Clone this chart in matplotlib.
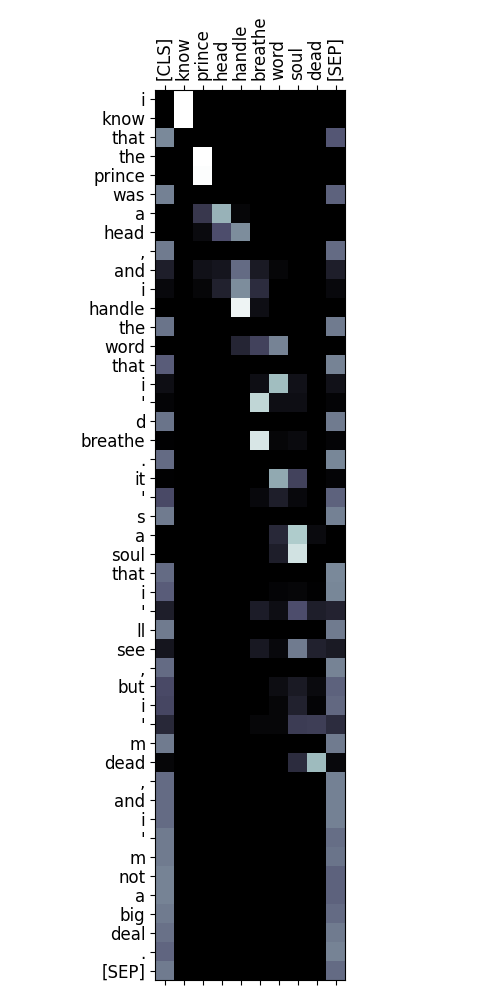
import numpy as np
import matplotlib
matplotlib.use('Agg')
import matplotlib.pyplot as plt

# key tokens (columns) and sentence tokens (rows)
cols = ['[CLS]', 'know', 'prince', 'head', 'handle', 'breathe',
        'word', 'soul', 'dead', '[SEP]']
rows = ['i', 'know', 'that', 'the', 'prince', 'was', 'a', 'head', ',',
        'and', 'i', 'handle', 'the', 'word', 'that', 'i', "'", 'd',
        'breathe', '.', 'it', "'", 's', 'a', 'soul', 'that', 'i', "'",
        'll', 'see', ',', 'but', 'i', "'", 'm', 'dead', ',', 'and', 'i',
        "'", 'm', 'not', 'a', 'big', 'deal', '.', '[SEP]']

# attention weights, one list per row (CLS ... SEP)
attn = [
    [0.00, 1.00, 0.00, 0.00, 0.00, 0.00, 0.00, 0.00, 0.00, 0.00],
    [0.00, 1.00, 0.00, 0.00, 0.00, 0.00, 0.00, 0.00, 0.00, 0.00],
    [0.55, 0.00, 0.00, 0.00, 0.00, 0.00, 0.00, 0.00, 0.00, 0.38],
    [0.00, 0.00, 1.00, 0.00, 0.00, 0.00, 0.00, 0.00, 0.00, 0.00],
    [0.00, 0.00, 0.99, 0.00, 0.00, 0.00, 0.00, 0.00, 0.00, 0.00],
    [0.52, 0.00, 0.00, 0.00, 0.00, 0.00, 0.00, 0.00, 0.00, 0.42],
    [0.00, 0.00, 0.25, 0.68, 0.03, 0.00, 0.00, 0.00, 0.00, 0.00],
    [0.00, 0.00, 0.05, 0.35, 0.56, 0.00, 0.00, 0.00, 0.00, 0.00],
    [0.50, 0.00, 0.00, 0.00, 0.00, 0.00, 0.00, 0.00, 0.00, 0.45],
    [0.14, 0.00, 0.08, 0.10, 0.45, 0.12, 0.03, 0.00, 0.00, 0.14],
    [0.04, 0.00, 0.03, 0.15, 0.56, 0.20, 0.00, 0.00, 0.00, 0.04],
    [0.00, 0.00, 0.00, 0.00, 0.95, 0.07, 0.00, 0.00, 0.00, 0.00],
    [0.48, 0.00, 0.00, 0.00, 0.00, 0.00, 0.00, 0.00, 0.00, 0.50],
    [0.00, 0.00, 0.00, 0.00, 0.17, 0.30, 0.53, 0.00, 0.00, 0.00],
    [0.40, 0.00, 0.00, 0.00, 0.00, 0.00, 0.00, 0.00, 0.00, 0.53],
    [0.07, 0.00, 0.00, 0.00, 0.00, 0.07, 0.72, 0.08, 0.00, 0.08],
    [0.02, 0.00, 0.00, 0.00, 0.00, 0.82, 0.07, 0.07, 0.00, 0.02],
    [0.48, 0.00, 0.00, 0.00, 0.00, 0.00, 0.00, 0.00, 0.00, 0.50],
    [0.01, 0.00, 0.00, 0.00, 0.00, 0.89, 0.03, 0.05, 0.00, 0.02],
    [0.45, 0.00, 0.00, 0.00, 0.00, 0.00, 0.00, 0.00, 0.00, 0.54],
    [0.01, 0.00, 0.00, 0.00, 0.00, 0.00, 0.65, 0.30, 0.00, 0.02],
    [0.33, 0.00, 0.00, 0.00, 0.00, 0.04, 0.14, 0.04, 0.00, 0.42],
    [0.50, 0.00, 0.00, 0.00, 0.00, 0.00, 0.00, 0.00, 0.00, 0.52],
    [0.00, 0.00, 0.00, 0.00, 0.00, 0.00, 0.18, 0.77, 0.05, 0.00],
    [0.00, 0.00, 0.00, 0.00, 0.00, 0.00, 0.14, 0.87, 0.00, 0.00],
    [0.45, 0.00, 0.00, 0.00, 0.00, 0.00, 0.00, 0.00, 0.00, 0.55],
    [0.40, 0.00, 0.00, 0.00, 0.00, 0.00, 0.02, 0.03, 0.01, 0.54],
    [0.14, 0.00, 0.00, 0.00, 0.00, 0.13, 0.07, 0.35, 0.14, 0.16],
    [0.50, 0.00, 0.00, 0.00, 0.00, 0.00, 0.00, 0.00, 0.00, 0.50],
    [0.10, 0.00, 0.00, 0.00, 0.00, 0.11, 0.04, 0.50, 0.15, 0.12],
    [0.45, 0.00, 0.00, 0.00, 0.00, 0.00, 0.00, 0.00, 0.00, 0.53],
    [0.33, 0.00, 0.00, 0.00, 0.00, 0.00, 0.06, 0.12, 0.05, 0.42],
    [0.32, 0.00, 0.00, 0.00, 0.00, 0.00, 0.03, 0.15, 0.02, 0.44],
    [0.18, 0.00, 0.00, 0.00, 0.00, 0.03, 0.03, 0.27, 0.28, 0.20],
    [0.50, 0.00, 0.00, 0.00, 0.00, 0.00, 0.00, 0.00, 0.00, 0.50],
    [0.03, 0.00, 0.00, 0.00, 0.00, 0.00, 0.00, 0.20, 0.71, 0.04],
    [0.45, 0.00, 0.00, 0.00, 0.00, 0.00, 0.00, 0.00, 0.00, 0.52],
    [0.45, 0.00, 0.00, 0.00, 0.00, 0.00, 0.00, 0.00, 0.00, 0.52],
    [0.45, 0.00, 0.00, 0.00, 0.00, 0.00, 0.00, 0.00, 0.00, 0.52],
    [0.50, 0.00, 0.00, 0.00, 0.00, 0.00, 0.00, 0.00, 0.00, 0.46],
    [0.50, 0.00, 0.00, 0.00, 0.00, 0.00, 0.00, 0.00, 0.00, 0.48],
    [0.53, 0.00, 0.00, 0.00, 0.00, 0.00, 0.00, 0.00, 0.00, 0.42],
    [0.53, 0.00, 0.00, 0.00, 0.00, 0.00, 0.00, 0.00, 0.00, 0.42],
    [0.50, 0.00, 0.00, 0.00, 0.00, 0.00, 0.00, 0.00, 0.00, 0.45],
    [0.47, 0.00, 0.00, 0.00, 0.00, 0.00, 0.00, 0.00, 0.00, 0.50],
    [0.43, 0.00, 0.00, 0.00, 0.00, 0.00, 0.00, 0.00, 0.00, 0.53],
    [0.50, 0.00, 0.00, 0.00, 0.00, 0.00, 0.00, 0.00, 0.00, 0.45],
]

fig = plt.figure(figsize=(5, 10), dpi=100)
ax = fig.add_axes([0.31, 0.02, 0.38, 0.89])
ax.imshow(np.array(attn), cmap='bone', vmin=0, vmax=1, aspect='auto',
          interpolation='nearest')

ax.set_xticks(range(len(cols)))
ax.set_xticklabels(cols, rotation=90, fontsize=12)
ax.set_yticks(range(len(rows)))
ax.set_yticklabels(rows, fontsize=12)
ax.tick_params(top=True, labeltop=True, bottom=True, labelbottom=False)

fig.savefig('out.png', dpi=100)
